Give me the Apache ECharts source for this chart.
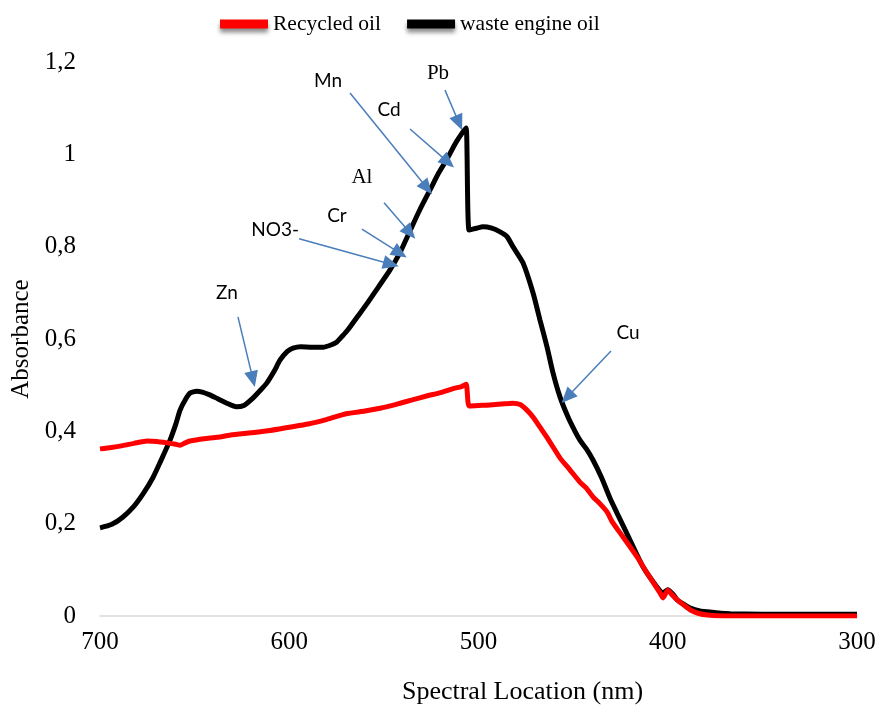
<!DOCTYPE html>
<html>
<head>
<meta charset="utf-8">
<script src="https://cdn.jsdelivr.net/npm/echarts@6/dist/echarts.min.js"></script>
<style>
  html, body { margin: 0; padding: 0; background: #fff; }
  #chart { width: 880px; height: 710px; }
</style>
</head>
<body>
<div id="chart"></div>
<script>
// Spectral location (nm) and absorbance, waste engine oil
const wasteWl = [700, 694, 688, 682, 677, 672, 668, 663, 660, 657.7, 655, 652.4, 649, 646, 642, 638, 633, 628, 624, 619.2, 615, 611.8, 608, 604.9, 601, 598, 594, 588, 582, 578, 575, 572, 569, 564, 559, 553, 547, 541.5, 536, 531, 525.6, 521, 516.6, 512, 508.5, 506.5, 505, 501, 497.6, 493, 488.6, 485, 481.8, 476.5, 471.2, 467.5, 463.8, 460.6, 456.9, 452.7, 449, 446.4, 443, 439.5, 435, 430.5, 426.8, 420, 413, 405.7, 402.5, 400, 397, 395, 391, 388, 383, 379, 372, 367, 350, 330, 300];
const wasteAbs = [0.191, 0.198, 0.214, 0.238, 0.266, 0.300, 0.335, 0.381, 0.415, 0.446, 0.468, 0.483, 0.487, 0.485, 0.479, 0.471, 0.461, 0.453, 0.456, 0.472, 0.490, 0.505, 0.530, 0.554, 0.573, 0.580, 0.583, 0.582, 0.582, 0.587, 0.593, 0.606, 0.620, 0.648, 0.676, 0.712, 0.748, 0.787, 0.836, 0.880, 0.923, 0.960, 0.990, 1.025, 1.047, 1.057, 0.836, 0.840, 0.843, 0.840, 0.832, 0.822, 0.800, 0.765, 0.700, 0.641, 0.583, 0.526, 0.474, 0.431, 0.400, 0.381, 0.362, 0.338, 0.300, 0.255, 0.223, 0.165, 0.106, 0.063, 0.050, 0.057, 0.046, 0.035, 0.024, 0.017, 0.011, 0.009, 0.006, 0.005, 0.004, 0.004, 0.004];

// Spectral location (nm) and absorbance, recycled oil
const recycledWl = [700, 694, 688, 682, 675, 670, 664.6, 660, 657.7, 655, 652.4, 645, 638, 631, 620, 610, 600, 590, 580, 570, 560, 552, 544, 535, 527, 520, 513, 509, 506.5, 505, 500, 494, 488, 482, 478, 474.4, 471, 467.5, 464, 460.6, 456.9, 452, 446.4, 443, 439.5, 436, 432, 429.5, 423.6, 416.2, 410.9, 406, 404.1, 402.5, 400, 397.5, 395, 391, 388, 384, 379, 370, 300];
const recycledAbs = [0.362, 0.365, 0.369, 0.374, 0.379, 0.378, 0.375, 0.372, 0.370, 0.375, 0.379, 0.384, 0.387, 0.392, 0.397, 0.402, 0.409, 0.416, 0.426, 0.438, 0.444, 0.450, 0.458, 0.468, 0.477, 0.484, 0.493, 0.497, 0.502, 0.455, 0.456, 0.457, 0.459, 0.461, 0.458, 0.446, 0.430, 0.409, 0.388, 0.366, 0.342, 0.318, 0.290, 0.277, 0.258, 0.244, 0.225, 0.205, 0.171, 0.128, 0.093, 0.062, 0.050, 0.039, 0.056, 0.045, 0.035, 0.022, 0.013, 0.006, 0.002, 0.000, 0.000];

// Axis ticks
const xTicks = [700, 600, 500, 400, 300];
const yTicks = [0, 0.2, 0.4, 0.6, 0.8, 1.0, 1.2];

// Element labels with arrows, in data units [nm, absorbance]
const annoNames   = ['Mn', 'Pb', 'Cd', 'Al', 'Cr', 'NO3-', 'Zn', 'Cu'];
const annoTextAt  = [[579.5, 1.159], [521.4, 1.176], [547.3, 1.096], [561.6, 0.949], [574.8, 0.866], [607.5, 0.836], [632.9, 0.700], [421.0, 0.613]];
const annoFrom    = [[567.9, 1.133], [517.7, 1.139], [536.2, 1.055], [549.9, 0.895], [561.6, 0.838], [594.8, 0.817], [627.1, 0.648], [430.0, 0.574]];
const annoTo      = [[527.2, 0.927], [510.3, 1.068], [516.1, 0.983], [536.2, 0.830], [541.5, 0.786], [546.2, 0.762], [619.2, 0.513], [453.2, 0.474]];
const serifNames  = ['Pb', 'Al'];

const zip = (a, b) => a.map((v, i) => [v, b[i]]);
const fmtY = v => String(+v.toFixed(1)).replace('.', ',');

// soft drop shadow used under the legend swatches
const swatchShadow = { shadowBlur: 4, shadowColor: 'rgba(0,0,0,0.45)', shadowOffsetY: 4 };

const chart = echarts.init(document.getElementById('chart'), null, { renderer: 'canvas' });

chart.setOption({
  animation: false,
  backgroundColor: '#ffffff',
  grid: { left: 100, right: 23, top: 62, bottom: 94, containLabel: false, outerBoundsMode: 'none' },
  legend: {
    data: ['Recycled oil', 'waste engine oil'],
    left: 215,
    top: 8,
    icon: 'rect',
    itemWidth: 48,
    itemHeight: 9,
    itemGap: 26,
    textStyle: { fontFamily: 'Liberation Serif', fontSize: 21.5, color: '#000' },
    itemStyle: swatchShadow
  },
  xAxis: {
    type: 'value',
    inverse: true,
    min: 300,
    max: 700,
    interval: 100,
    name: 'Spectral Location (nm)',
    nameLocation: 'middle',
    nameGap: 63,
    nameTextStyle: { fontFamily: 'Liberation Serif', fontSize: 26, color: '#000', padding: [0, 0, 0, 88] },
    axisLine: { show: true, lineStyle: { color: '#d9d9d9', width: 1.5 } },
    axisTick: { show: false },
    splitLine: { show: false },
    axisLabel: {
      fontFamily: 'Liberation Serif', fontSize: 25, color: '#000', margin: 14,
      formatter: v => (xTicks.includes(v) ? String(v) : '')
    }
  },
  yAxis: {
    type: 'value',
    min: 0,
    max: 1.2,
    interval: 0.2,
    name: 'Absorbance',
    nameLocation: 'middle',
    nameGap: 66,
    nameTextStyle: { fontFamily: 'Liberation Serif', fontSize: 25, color: '#000' },
    axisLine: { show: false },
    axisTick: { show: false },
    splitLine: { show: false },
    axisLabel: {
      fontFamily: 'Liberation Serif', fontSize: 25, color: '#000', margin: 24,
      formatter: v => (yTicks.some(t => Math.abs(t - v) < 1e-9) ? fmtY(v) : '')
    }
  },
  series: [
    {
      name: 'waste engine oil',
      type: 'line',
      data: zip(wasteWl, wasteAbs),
      showSymbol: false,
      smooth: 0.2,
      color: '#000000',
      itemStyle: swatchShadow,
      lineStyle: { color: '#000000', width: 5 },
      z: 2
    },
    {
      name: 'Recycled oil',
      type: 'line',
      data: zip(recycledWl, recycledAbs),
      showSymbol: false,
      smooth: 0.2,
      color: '#ff0000',
      itemStyle: swatchShadow,
      lineStyle: { color: '#ff0000', width: 5 },
      z: 3
    },
    {
      name: 'elements',
      type: 'scatter',
      silent: true,
      symbolSize: 0,
      itemStyle: { color: 'rgba(0,0,0,0)', opacity: 1 },
      data: annoNames.map((n, i) => ({
        name: n,
        value: annoTextAt[i],
        label: {
          show: true,
          position: 'inside',
          formatter: n,
          color: '#000',
          opacity: 1,
          fontSize: serifNames.includes(n) ? 21 : 19,
          fontFamily: serifNames.includes(n) ? 'Liberation Serif' : 'Lato'
        }
      })),
      markLine: {
        silent: true,
        symbol: ['none', 'triangle'],
        symbolSize: [14, 16],
        label: { show: false },
        lineStyle: { color: '#4a7ebb', width: 1.5, type: 'solid', opacity: 1 },
        data: annoNames.map((n, i) => [{ coord: annoFrom[i] }, { coord: annoTo[i] }])
      },
      z: 5
    }
  ]
});
</script>
</body>
</html>
